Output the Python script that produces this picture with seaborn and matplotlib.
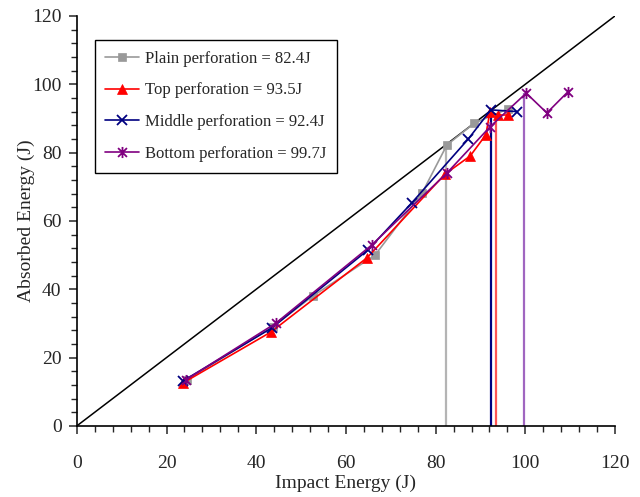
import numpy as np
import pandas as pd
import matplotlib
matplotlib.use("Agg")
import matplotlib.pyplot as plt
from matplotlib.path import Path
from matplotlib.ticker import MultipleLocator
import seaborn as sns

# ---- data ----
plain_x = [24.5, 43.7, 52.6, 66.5, 77.0, 82.5, 88.6, 96.1]
plain_y = [13.5, 29.0, 38.0, 50.0, 68.2, 82.2, 88.6, 92.8]
top_x = [23.7, 43.3, 64.7, 82.1, 87.7, 91.2, 92.1, 93.9, 96.1]
top_y = [12.6, 27.5, 49.2, 73.7, 79.0, 85.2, 91.9, 91.0, 91.0]
mid_x = [23.7, 43.5, 64.9, 74.7, 87.3, 92.3, 98.1]
mid_y = [13.2, 28.7, 51.5, 65.3, 84.0, 92.5, 92.0]
bot_x = [24.3, 44.4, 65.8, 82.5, 92.1, 100.2, 104.8, 109.5]
bot_y = [13.5, 30.1, 53.0, 74.0, 87.5, 97.4, 91.6, 97.8]

labels = ["Plain perforation = 82.4J", "Top perforation = 93.5J",
          "Middle perforation = 92.4J", "Bottom perforation = 99.7J"]
perf_energy = [82.4, 93.5, 92.4, 99.7]
perf_top = [82.2, 91.6, 92.5, 97.4]
diag = [0, 120]

# ---- style ----
sns.set_style("white")
plt.rcParams['font.family'] = ['Liberation Serif', 'DejaVu Serif']

star = Path([(-1, -1), (1, 1), (-1, 1), (1, -1), (0, -1.25), (0, 1.25)],
            [Path.MOVETO, Path.LINETO, Path.MOVETO, Path.LINETO, Path.MOVETO, Path.LINETO])

colors = ["#999999", "#FF0000", "#000080", "#800080"]
vcolors = ["#B4B4B4", "#FF5555", "#000080", "#A066C0"]
markers = ["s", "^", "x", star]
msizes = [6, 7, 7, 8]

fig = plt.figure(figsize=(6.4, 4.97), dpi=100)
ax = fig.add_axes([0.120, 0.143, 0.841, 0.825])

ax.plot(diag, diag, color="black", lw=1.1, zorder=1)

series = [(plain_x, plain_y), (top_x, top_y), (mid_x, mid_y), (bot_x, bot_y)]
for i, (xs, ys) in enumerate(series):
    df = pd.DataFrame({"x": xs, "y": ys})
    sns.lineplot(data=df, x="x", y="y", ax=ax, color=colors[i], marker=markers[i],
                 markersize=msizes[i], markeredgecolor=colors[i],
                 markeredgewidth=1.3 if i >= 2 else 0.5,
                 lw=1.2, sort=False, estimator=None, label=labels[i], zorder=3)

for i in range(4):
    ax.vlines(perf_energy[i], 0, perf_top[i], color=vcolors[i], lw=1.6, zorder=2)

ax.set_xlim(0, 120)
ax.set_ylim(0, 120)
ax.xaxis.set_major_locator(MultipleLocator(20))
ax.xaxis.set_minor_locator(MultipleLocator(4))
ax.yaxis.set_major_locator(MultipleLocator(20))
ax.yaxis.set_minor_locator(MultipleLocator(4))
ax.tick_params(which="major", direction="out", length=6, width=1.1, labelsize=14,
               bottom=True, left=True)
ax.tick_params(axis="x", which="major", pad=15)
ax.tick_params(axis="y", which="major", pad=5)
ax.tick_params(which="minor", direction="out", length=4, width=1.0,
               bottom=True, left=True)
for s in ["top", "right"]:
    ax.spines[s].set_visible(False)
for s in ["left", "bottom"]:
    ax.spines[s].set_color("black")
    ax.spines[s].set_linewidth(1.2)

ax.set_xlabel("Impact Energy (J)", fontsize=14, labelpad=2)
ax.set_ylabel("Absorbed Energy (J)", fontsize=14, labelpad=-2)

leg = ax.legend(loc="upper left", bbox_to_anchor=(0.033, 0.942), fontsize=12,
                frameon=True, fancybox=False, edgecolor="black", framealpha=1,
                handlelength=2.0, handletextpad=0.35, labelspacing=0.95,
                borderpad=0.65, borderaxespad=0)
leg.get_frame().set_linewidth(1.0)

fig.savefig("out.png", dpi=100)
